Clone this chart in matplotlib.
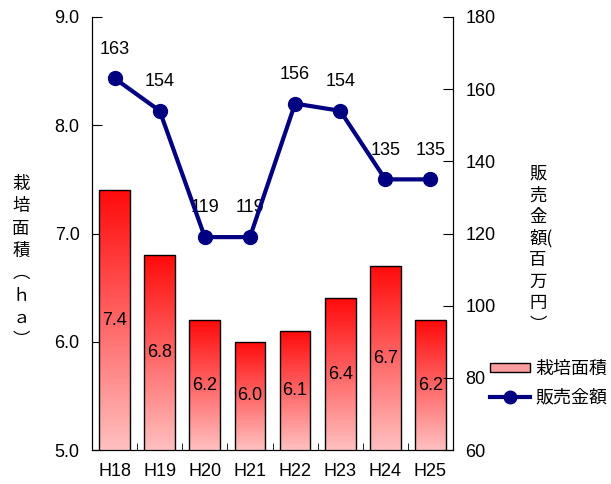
import numpy as np
import matplotlib.pyplot as plt
from matplotlib.colors import LinearSegmentedColormap
from matplotlib.patches import Rectangle
from matplotlib.lines import Line2D

plt.rcParams['font.family'] = ['Noto Sans CJK JP', 'DejaVu Sans']
NUM_FONT = ['Liberation Sans', 'DejaVu Sans']

# Data
years = ['H18', 'H19', 'H20', 'H21', 'H22', 'H23', 'H24', 'H25']
area = [7.4, 6.8, 6.2, 6.0, 6.1, 6.4, 6.7, 6.2]        # 栽培面積 (ha)
sales = [163, 154, 119, 119, 156, 154, 135, 135]      # 販売金額 (百万円)

x = np.arange(len(years))
fig = plt.figure(figsize=(6.11, 4.84), dpi=100)
ax = fig.add_axes([0.1506, 0.0702, 0.5908, 0.8947])

# Bars with a vertical red gradient (pink at the bottom, red at the top)
cmap = LinearSegmentedColormap.from_list('redgrad', ['#ffc0c0', '#ff0a0a'])
grad = np.linspace(0, 1, 256).reshape(-1, 1)
bars = ax.bar(x, area, width=0.68, bottom=0, color='none',
              edgecolor='black', linewidth=1.0, zorder=3)
for b, v in zip(bars, area):
    x0 = b.get_x()
    im = ax.imshow(grad, cmap=cmap, aspect='auto', origin='lower',
                   extent=[x0, x0 + b.get_width(), 5.0, v], zorder=2)
    im.set_clip_path(b)
    ax.text(b.get_x() + b.get_width() / 2, (5.0 + v) / 2, f'{v:.1f}',
            ha='center', va='center', fontsize=13, family=NUM_FONT, zorder=4)

ax.set_xlim(-0.5, len(years) - 0.5)
ax.set_ylim(5.0, 9.0)
yt = np.arange(5.0, 9.01, 1.0)
ax.set_yticks(yt)
ax.set_yticklabels([f'{t:.1f}' for t in yt], fontsize=13, family=NUM_FONT)
ax.set_xticks(x)
ax.set_xticklabels(years, fontsize=13, family=NUM_FONT)
ax.set_xticks(x[:-1] + 0.5, minor=True)
ax.tick_params(axis='x', which='major', length=0, pad=9)
ax.tick_params(axis='x', which='minor', direction='in', length=5)
ax.tick_params(axis='y', direction='in', length=7, pad=9)
ax.spines['top'].set_visible(False)

# Sales line on the secondary axis
ax2 = ax.twinx()
ax2.plot(x, sales, color='#000080', linewidth=3, marker='o',
         markersize=10, zorder=5)
for xi, s in zip(x, sales):
    ax2.annotate(str(s), (xi, s), xytext=(0, 21), textcoords='offset points',
                 ha='center', va='center', fontsize=13, family=NUM_FONT)
ax2.set_ylim(60, 180)
rt = np.arange(60, 181, 20)
ax2.set_yticks(rt)
ax2.set_yticklabels([str(t) for t in rt], fontsize=13, family=NUM_FONT)
ax2.tick_params(axis='y', direction='in', length=7, pad=9)
ax2.spines['top'].set_visible(False)

# Vertical axis titles, one character per line
left_title = '\n'.join('栽培面積︵ｈａ︶')
right_title = '\n'.join(['販', '売', '金', '額(', '百', '万', '円', '︶'])
fig.text(0.034, 0.459, left_title, ha='center', va='center', fontsize=12.5,
         linespacing=1.3)
fig.text(0.866, 0.485, right_title, ha='left', va='center', fontsize=12.5,
         linespacing=1.25, multialignment='left')

handles = [Rectangle((0, 0), 1, 1, facecolor='#ff9c9c', edgecolor='black'),
           Line2D([], [], color='#000080', linewidth=3, marker='o', markersize=9)]
fig.legend(handles, ['栽培面積', '販売金額'], loc='center left',
           bbox_to_anchor=(0.787, 0.208), frameon=False, fontsize=13,
           handlelength=2.2, handleheight=0.45, handletextpad=0.3,
           labelspacing=0.6, borderpad=0)

fig.savefig('out.png', dpi=100)
